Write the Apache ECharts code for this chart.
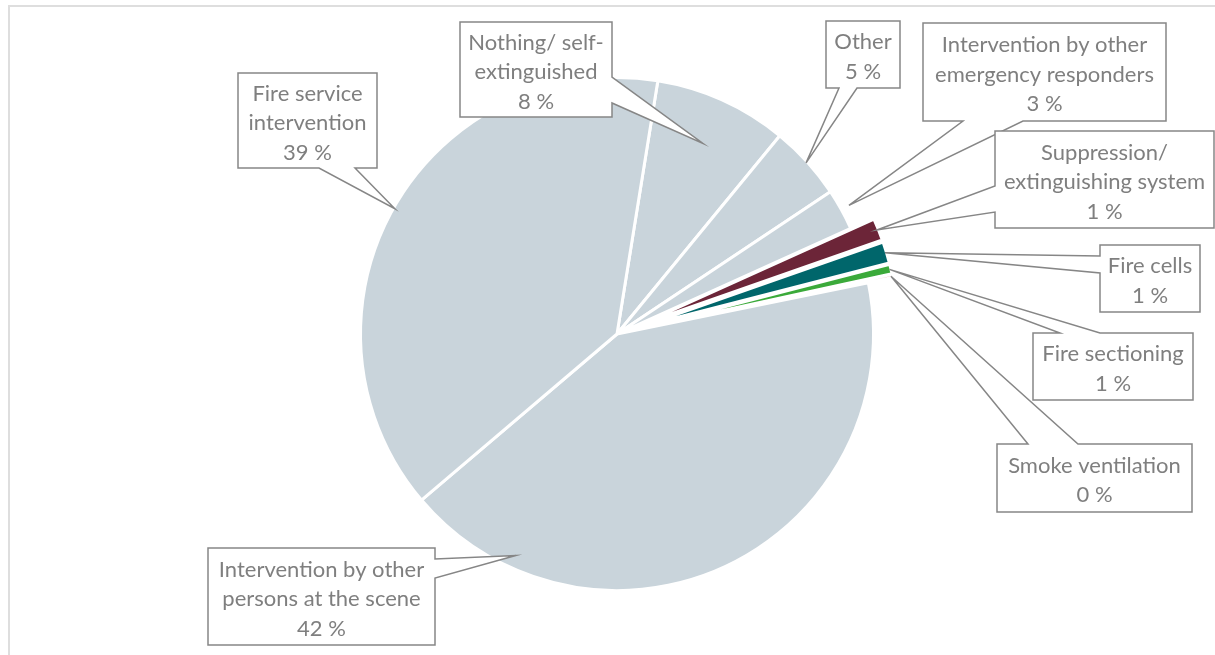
<!DOCTYPE html>
<html>
<head>
<meta charset="utf-8">
<title>How fires were extinguished</title>
<script src="https://cdn.jsdelivr.net/npm/echarts@6/dist/echarts.min.js"></script>
<style>
  html, body { margin: 0; padding: 0; background: #ffffff; }
  #chart { width: 1215px; height: 655px; }
</style>
</head>
<body>
<div id="chart"></div>
<script>
// Category labels (line breaks as shown in the callouts)
const categories = [
  'Nothing/ self-\nextinguished',
  'Other',
  'Intervention by other\nemergency responders',
  'Suppression/\nextinguishing system',
  'Fire cells',
  'Fire sectioning',
  'Smoke ventilation',
  'Intervention by other\npersons at the scene',
  'Fire service\nintervention'
];
// Share of fires, percent
const shares = [8.4, 4.7, 2.6, 1.4, 1.35, 0.6, 0.2, 42.0, 38.75];
// Slices pulled out from the pie
const exploded = [false, false, false, true, true, true, true, false, false];
const sliceColors = ['#C9D4DB', '#C9D4DB', '#C9D4DB', '#6C2538', '#00666B', '#3BAA3A', '#EFA39C', '#C9D4DB', '#C9D4DB'];

// ---- layout of the callouts ----
const PIE_CX = 617, PIE_CY = 334, PIE_R = 256.5, EXPLODE = 25;
// box [x, y, w, h], side the pointer leaves from, pointer base (two coords along that side)
const callouts = [
  { box: [460, 22, 152, 95],  side: 'right',  a: 77,   b: 103,  tip: [0.5, 0.82] },
  { box: [826, 21, 74, 67],   side: 'bottom', a: 857,  b: 839,  tip: [0.5, 1.0] },
  { box: [923, 23, 243, 98],  side: 'bottom', a: 1023, b: 963,  tip: [0.5, 1.04] },
  { box: [995, 131, 219, 97], side: 'left',   a: 212,  b: 186,  tip: [0.5, 1.0] },
  { box: [1100, 245, 100, 67],side: 'left',   a: 273,  b: 256,  tip: [0.5, 1.0] },
  { box: [1033, 333, 160, 67],side: 'top',    a: 1060, b: 1100, tip: [0.5, 1.0] },
  { box: [997, 444, 195, 68], side: 'top',    a: 1028, b: 1078, tip: [0.5, 1.0] },
  { box: [208, 548, 227, 97], side: 'right',  a: 559,  b: 578,  tip: [0.834, 0.955] },
  { box: [238, 73, 139, 95],  side: 'bottom', a: 355,  b: 319,  tip: [0.5, 1.0] }
];

const TEXT_COLOR = '#7F7F7F';
const LINE_COLOR = '#868686';
const FONT = 'Lato, "Open Sans", sans-serif';

const chart = echarts.init(document.getElementById('chart'), null, { renderer: 'canvas' });

const pieData = categories.map((c, i) => ({
  name: c.replace('\n', ' '),
  value: shares[i],
  selected: exploded[i],
  itemStyle: { color: sliceColors[i] },
  select: { itemStyle: { color: sliceColors[i], borderColor: '#ffffff', borderWidth: 3 } }
}));

chart.setOption({
  animation: false,
  backgroundColor: '#ffffff',
  series: [{
    type: 'pie',
    center: [PIE_CX, PIE_CY],
    radius: PIE_R,
    startAngle: 80.84,
    clockwise: true,
    selectedMode: 'multiple',
    selectedOffset: EXPLODE,
    avoidLabelOverlap: false,
    silent: true,
    label: { show: false },
    labelLine: { show: false },
    emphasis: { disabled: true },
    itemStyle: { borderColor: '#ffffff', borderWidth: 3 },
    data: pieData
  }]
});

// Angular extent of each slice, taken from the pie's own layout
function sliceLayout(i) {
  let lay = null;
  try {
    lay = chart.getModel().getSeriesByIndex(0).getData().getItemLayout(i);
  } catch (e) { lay = null; }
  if (lay && isFinite(lay.startAngle)) return lay;
  // fallback: same arithmetic as the pie layout
  const total = shares.reduce((s, v) => s + v, 0);
  let a = -80.84 * Math.PI / 180;
  for (let k = 0; k < i; k++) a += shares[k] / total * Math.PI * 2;
  return { cx: PIE_CX, cy: PIE_CY, r: PIE_R, startAngle: a, endAngle: a + shares[i] / total * Math.PI * 2 };
}

function tipPoint(i) {
  const lay = sliceLayout(i);
  const spec = callouts[i].tip;
  const visR = lay.r - 1.5;
  const a = lay.startAngle + (lay.endAngle - lay.startAngle) * spec[0];
  let x = lay.cx + Math.cos(a) * visR * spec[1];
  let y = lay.cy + Math.sin(a) * visR * spec[1];
  if (exploded[i]) {
    const m = (lay.startAngle + lay.endAngle) / 2;
    x += Math.cos(m) * EXPLODE;
    y += Math.sin(m) * EXPLODE;
  }
  return [x, y];
}

function calloutPoints(c, tip) {
  const [x, y, w, h] = c.box;
  const r = x + w, bt = y + h;
  const pts = [[x, y]];
  if (c.side === 'top') pts.push([c.a, y], tip, [c.b, y]);
  pts.push([r, y]);
  if (c.side === 'right') pts.push([r, c.a], tip, [r, c.b]);
  pts.push([r, bt]);
  if (c.side === 'bottom') pts.push([c.a, bt], tip, [c.b, bt]);
  pts.push([x, bt]);
  if (c.side === 'left') pts.push([x, c.a], tip, [x, c.b]);
  return pts;
}

const graphics = [{
  type: 'rect',
  silent: true,
  z: 0,
  shape: { x: 9, y: 6, width: 1400, height: 1000 },
  style: { fill: 'none', stroke: '#DEDEDE', lineWidth: 2 }
}];

callouts.forEach((c, i) => {
  graphics.push({
    type: 'polygon',
    silent: true,
    z: 10,
    shape: { points: calloutPoints(c, tipPoint(i)) },
    style: { fill: '#ffffff', stroke: LINE_COLOR, lineWidth: 1.5, lineJoin: 'miter' }
  });
  graphics.push({
    type: 'text',
    silent: true,
    z: 11,
    x: c.box[0] + c.box[2] / 2,
    y: c.box[1] + c.box[3] / 2 + 2.5,
    style: {
      text: categories[i] + '\n' + Math.round(shares[i]) + ' %',
      fill: TEXT_COLOR,
      fontFamily: FONT,
      fontSize: 22,
      lineHeight: 29.5,
      align: 'center',
      verticalAlign: 'middle'
    }
  });
});

chart.setOption({ graphic: graphics });
</script>
</body>
</html>
